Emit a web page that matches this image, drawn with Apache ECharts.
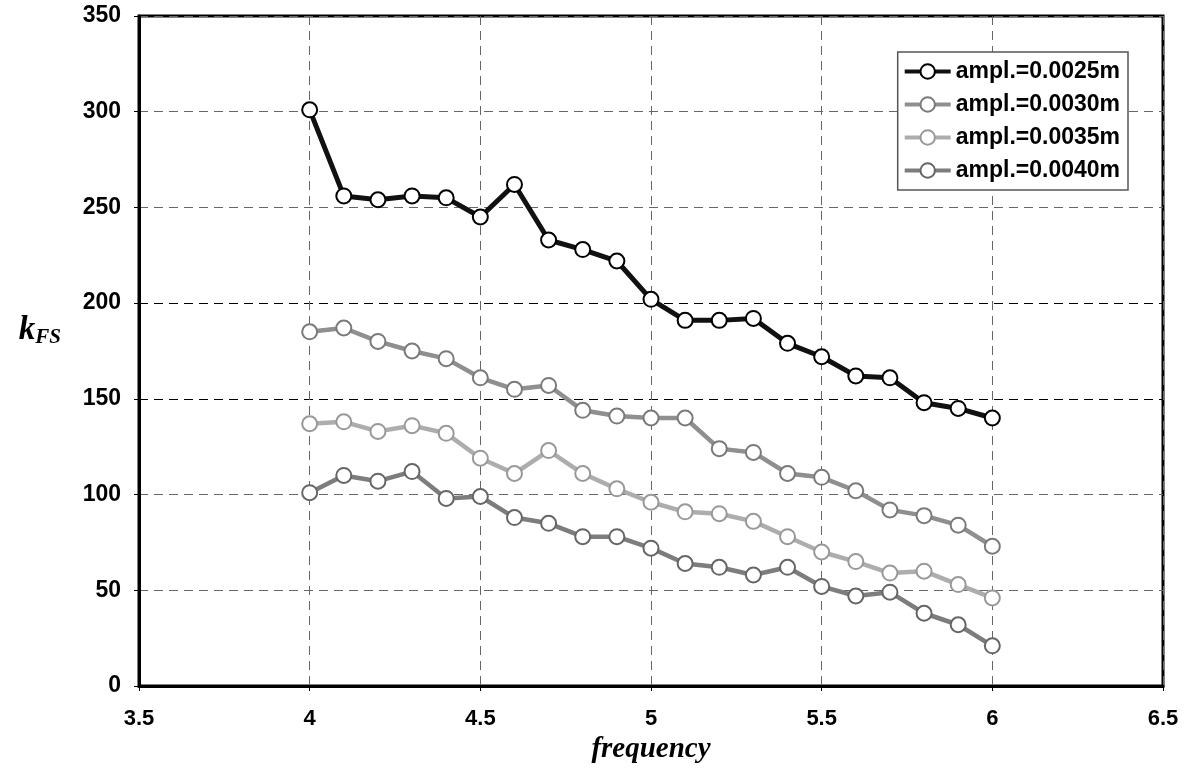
<!DOCTYPE html>
<html lang="en">
<head>
    <meta charset="UTF-8">
    <title>kFS vs frequency</title>
    <script type="text/javascript" src="https://cdn.jsdelivr.net/npm/echarts@6/dist/echarts.min.js"></script>
    <style>
        html, body { margin: 0; padding: 0; background: #fff; }
    </style>
</head>
<body>
    <div id="chart" style="width:1189px;height:775px;"></div>
<script>
// frequency values (x)
var frequency = [4.0, 4.1, 4.2, 4.3, 4.4, 4.5, 4.6, 4.7, 4.8, 4.9, 5.0,
                 5.1, 5.2, 5.3, 5.4, 5.5, 5.6, 5.7, 5.8, 5.9, 6.0];

// kFS
var a0025 = [301, 256, 254, 256, 255, 245, 262, 233, 228, 222, 202,
             191, 191, 192, 179, 172, 162, 161, 148, 145, 140];
var a0030 = [185, 187, 180, 175, 171, 161, 155, 157, 144, 141, 140,
             140, 124, 122, 111, 109, 102, 92, 89, 84, 73];
var a0035 = [137, 138, 133, 136, 132, 119, 111, 123, 111, 103, 96,
             91, 90, 86, 78, 70, 65, 59, 60, 53, 46];
var a0040 = [101, 110, 107, 112, 98, 99, 88, 85, 78, 78, 72,
             64, 62, 58, 62, 52, 47, 49, 38, 32, 21];

var names = ['ampl.=0.0025m', 'ampl.=0.0030m', 'ampl.=0.0035m', 'ampl.=0.0040m'];

function pairs(ys) {
    return frequency.map(function (x, i) { return [x, ys[i]]; });
}

var myChart = echarts.init(document.getElementById('chart'));

// 一条曲线的样式
function makeSeries(name, ys, color, lw, borderColor) {
    return {
        name: name,
        type: 'line',
        data: pairs(ys),
        symbol: 'circle',
        symbolSize: 15,
        lineStyle: { color: color, width: lw },
        itemStyle: { color: '#fff', borderColor: borderColor, borderWidth: 2 },
        emphasis: { disabled: true },
        z: 3
    };
}

var gridDash = [9, 6];

var option = {
    backgroundColor: '#fff',
    animation: false,
    grid: {
        left: 139,
        right: 26,
        top: 16,
        bottom: 89,
        show: true,
        borderColor: '#000',
        borderWidth: 3
    },
    legend: {
        data: names,
        orient: 'vertical',
        right: 61,
        top: 52,
        itemWidth: 46,
        itemHeight: 18,
        itemGap: 10,
        padding: [8, 8, 8, 5],
        backgroundColor: '#fff',
        borderColor: '#555',
        borderWidth: 1.5,
        borderRadius: 0,
        lineStyle: { width: 4 },
        textStyle: {
            fontFamily: 'Liberation Sans, Arial, sans-serif',
            fontWeight: 'bold',
            fontSize: 23,
            color: '#000'
        }
    },
    xAxis: {
        type: 'value',
        min: 3.5,
        max: 6.5,
        interval: 0.5,
        name: 'frequency',
        nameLocation: 'middle',
        nameGap: 48,
        nameTextStyle: {
            fontFamily: 'Liberation Serif, Times New Roman, serif',
            fontStyle: 'italic',
            fontWeight: 'bold',
            fontSize: 29,
            color: '#000'
        },
        axisLine: { show: true, lineStyle: { color: '#000', width: 3 } },
        axisTick: { show: true, length: 5, lineStyle: { color: '#000', width: 1 } },
        axisLabel: {
            margin: 22,
            fontFamily: 'Liberation Sans, Arial, sans-serif',
            fontWeight: 'bold',
            fontSize: 22,
            color: '#000',
            formatter: function (v) { return String(Math.round(v * 10) / 10); }
        },
        splitLine: { show: true, lineStyle: { color: '#666', type: gridDash, width: 1 } }
    },
    yAxis: {
        type: 'value',
        min: 0,
        max: 350,
        interval: 50,
        name: '{k|k}{s|FS}',
        nameLocation: 'middle',
        nameRotate: 0,
        nameGap: 78,
        nameTextStyle: {
            padding: [0, 0, 42, 0],
            rich: {
                k: {
                    fontFamily: 'Liberation Serif, Times New Roman, serif',
                    fontStyle: 'italic', fontWeight: 'bold', fontSize: 33, color: '#000'
                },
                s: {
                    fontFamily: 'Liberation Serif, Times New Roman, serif',
                    fontStyle: 'italic', fontWeight: 'bold', fontSize: 21, color: '#000',
                    padding: [16, 0, 0, 0]
                }
            }
        },
        axisLine: { show: true, lineStyle: { color: '#000', width: 3 } },
        axisTick: { show: true, length: 5, lineStyle: { color: '#000', width: 1 } },
        axisLabel: {
            margin: 18,
            fontFamily: 'Liberation Sans, Arial, sans-serif',
            fontWeight: 'bold',
            fontSize: 23,
            color: '#000'
        },
        // 150 和 200 的网格线更黑
        splitLine: {
            show: true,
            lineStyle: {
                color: ['#666', '#666', '#666', '#000', '#000', '#666', '#666', '#666'],
                type: gridDash,
                width: 1
            }
        }
    },
    series: [
        makeSeries(names[0], a0025, '#111', 5, '#000'),
        makeSeries(names[1], a0030, '#8f8f8f', 4.5, '#7a7a7a'),
        makeSeries(names[2], a0035, '#adadad', 4.5, '#999'),
        makeSeries(names[3], a0040, '#7d7d7d', 4.5, '#666')
    ]
};

myChart.setOption(option);
</script>
</body>
</html>
